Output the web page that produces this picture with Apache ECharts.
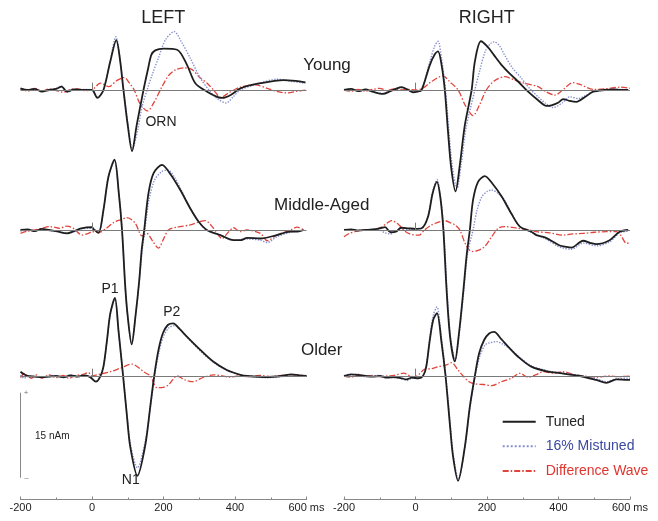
<!DOCTYPE html>
<html><head><meta charset="utf-8">
<script src="https://cdn.jsdelivr.net/npm/echarts@6/dist/echarts.min.js"></script>
<style>html,body{margin:0;padding:0;background:#fff}#c{width:658px;height:521px}</style>
</head><body><div id="c"></div>
<script>
// time axis (ms) and tick labels
const xTicks = [-200, 0, 200, 400, 600];
const tickLabels = ['-200', '0', '200', '400', '600 ms'];
const seriesNames = ['Tuned', '16% Mistuned', 'Difference Wave'];
const rowNames = ['Young', 'Middle-Aged', 'Older'];
const colNames = ['LEFT', 'RIGHT'];

// ---- LEFT / Young  [ms, nAm]
const leftYoungTuned = [[-200,0.3],[-180,0],[-160,0.2],[-140,-0.3],[-120,0],[-100,0.2],[-85,0.6],[-70,-0.3],[-50,0.1],[-25,0],[0,0],[15,-1.4],[32,0],[51,5.0],[68,8.8],[78,5.5],[88,0],[100,-6.2],[112,-10.8],[125,-6.2],[144,0],[157,3.8],[166,6.2],[177,7.0],[200,7.3],[238,7.1],[266,4.4],[289,1.2],[322,-0.3],[350,-1.2],[365,-1.4],[390,-0.8],[415,0.3],[471,1.2],[536,1.76],[570,1.6],[597,1.35]];
const leftYoungMistuned = [[-200,0.2],[-180,0],[-160,0.2],[-140,-0.2],[-120,0.1],[-100,0.3],[-85,0.7],[-70,-0.4],[-50,0],[-25,0.1],[0,0],[15,-1.2],[32,0],[51,5.2],[67,9.4],[78,5.8],[88,0.3],[100,-5.8],[113,-10.4],[128,-7.0],[140,-3.0],[154,0],[170,3.0],[185,5.5],[205,8.8],[230,10.3],[250,8.5],[275,5.6],[303,2.1],[331,-0.3],[350,-1.5],[375,-2.3],[395,-1.2],[415,0],[460,1.0],[517,1.9],[560,1.5],[597,1.2]];
const leftYoungDiff = [[-200,0.2],[-180,-0.2],[-160,0.3],[-140,-0.2],[-120,0.2],[-100,-0.1],[-80,-0.4],[-60,0.1],[-40,0.2],[-20,-0.1],[0,0],[23,1.2],[47,0.6],[70,1.7],[90,2.2],[105,1.2],[118,0],[135,-2.5],[155,-3.7],[175,-2.0],[195,0.5],[215,2.6],[235,3.6],[260,3.9],[280,3.6],[300,2.3],[322,1.2],[340,0],[360,-1.3],[385,-0.4],[415,0.5],[457,0.9],[490,0.3],[520,-0.3],[545,-0.5],[575,-0.2],[600,0]];

// ---- RIGHT / Young
const rightYoungTuned = [[-200,0],[-180,0.2],[-160,-0.2],[-140,0.1],[-120,-0.3],[-91,-0.7],[-70,-0.2],[-55,0.2],[-39,0.5],[-20,0],[-7,-0.4],[5,-0.3],[17,0],[40,4.4],[54,6.3],[63,6.8],[73,4.4],[82,0],[91,-7.4],[100,-13.8],[112,-17.9],[124,-13.2],[138,-6.2],[157,0],[166,5.0],[183,8.6],[202,7.6],[219,6.2],[241,4.4],[265,2.8],[287,1.5],[315,-0.3],[343,-1.8],[366,-2.8],[380,-2.7],[400,-2.2],[413,-1.6],[430,-1.9],[450,-2.1],[475,-1.2],[497,-0.3],[530,0],[553,0.1],[575,0],[595,0]];
const rightYoungMistuned = [[-200,0],[-180,0.1],[-160,-0.2],[-140,0.1],[-120,-0.3],[-91,-0.6],[-70,-0.2],[-39,0.4],[-20,0],[-7,-0.3],[5,-0.3],[17,0],[40,5.0],[54,7.8],[63,8.6],[73,5.5],[84,0],[93,-7.0],[103,-13.5],[116,-17.4],[128,-13.0],[142,-6.5],[166,0],[180,3.5],[195,6.8],[210,8.2],[220,8.5],[235,7.8],[249,6.2],[270,4.0],[296,2.1],[320,0.2],[343,-1.2],[365,-2.4],[385,-3.1],[410,-2.3],[432,-1.2],[455,-1.5],[475,-1.0],[497,-0.3],[530,0],[575,0.1],[595,0]];
const rightYoungDiff = [[-200,0],[-180,-0.2],[-160,0.1],[-140,-0.2],[-120,0.1],[-100,0.3],[-80,-0.1],[-60,0.2],[-40,0],[-20,0.1],[0,0],[20,0.3],[45,1.5],[77,2.5],[95,1.5],[119,0],[140,-2.8],[161,-4.5],[180,-2.5],[198,0],[220,1.6],[250,2.35],[275,1.8],[304,1.2],[343,0.6],[365,-0.3],[390,-0.9],[415,0.2],[440,1.3],[460,1.0],[497,0.1],[530,0.2],[574,0.5],[600,0.3]];

// ---- LEFT / Middle-Aged
const leftMiddleTuned = [[-200,0],[-180,0.1],[-160,-0.2],[-140,0.2],[-120,0],[-100,-0.2],[-70,-0.6],[-50,-0.2],[-30,0.3],[0,0.5],[5,0.1],[18,-0.5],[32,3.5],[46,9.4],[63,12.4],[75,6.5],[84,0],[93,-10],[100,-15.3],[111,-20.2],[122,-15],[132,-9],[139,-3.5],[146,0],[158,6.5],[172,10],[196,11.5],[220,9.8],[247,7.06],[275,3.8],[298,1.5],[321,0],[359,-0.9],[396,-1.8],[415,-1.8],[434,-1.4],[471,-1.5],[517,-0.9],[555,-0.3],[575,-0.3],[592,0]];
const leftMiddleMistuned = [[-200,-0.2],[-180,0],[-160,-0.1],[-140,0.1],[-120,-0.1],[-100,-0.3],[-70,-0.5],[-50,-0.3],[-30,0.2],[0,0.3],[18,-0.5],[32,3.5],[46,9.4],[63,12.2],[75,6.5],[84,0],[93,-10],[100,-15.3],[111,-20],[122,-15],[132,-9.2],[140,-3.8],[148,0],[160,5.5],[175,8.8],[195,10.3],[212,10.6],[230,9.4],[250,7.0],[275,3.8],[298,1.5],[321,0],[359,-0.9],[396,-1.8],[434,-1.6],[471,-1.8],[490,-2.2],[517,-1.2],[555,-0.4],[592,0]];
const leftMiddleDiff = [[-200,-0.6],[-180,-0.2],[-160,0],[-140,0.3],[-117,0.6],[-90,0.3],[-70,0.7],[-50,0.2],[-28,-0.9],[-10,-0.6],[0,-0.3],[20,-0.4],[40,0.3],[60,1.3],[80,1.8],[98,2.2],[121,1.2],[140,-1.06],[153,-0.6],[170,-2.0],[186,-3.2],[200,-1.6],[214,0],[238,0.5],[275,0.9],[303,1.5],[317,1.65],[340,0.3],[364,-1.5],[380,-0.5],[396,0.4],[415,-0.3],[433,0],[471,-0.6],[490,-1.9],[517,-0.9],[555,0],[574,0.5],[592,0]];

// ---- RIGHT / Middle-Aged
const rightMiddleTuned = [[-200,0],[-180,0.1],[-160,-0.1],[-140,0],[-120,0.1],[-100,0.3],[-85,0.5],[-70,-0.4],[-55,-0.3],[-40,0.4],[-20,0.3],[0,0.2],[17,0.3],[35,2.35],[48,6.5],[60,8.5],[70,5.5],[78,0],[87,-10.6],[97,-19],[110,-23.2],[122,-18],[134,-10.6],[143,-4.5],[152,0],[161,5.3],[175,8.5],[194,9.5],[215,8.2],[241,5.9],[268,2.9],[292,0.6],[324,-0.3],[338,-0.9],[362,-1.3],[376,-1.76],[399,-2.6],[413,-2.9],[436,-3.1],[469,-1.9],[490,-2.3],[506,-2.5],[543,-1.8],[571,-0.3],[595,0]];
const rightMiddleMistuned = [[-200,0],[-180,0],[-160,-0.1],[-140,0],[-120,0.1],[-100,0],[-85,-0.5],[-70,-0.7],[-55,-0.2],[-40,0.3],[-20,0.1],[0,0.2],[17,0.3],[35,2.5],[48,6.8],[60,8.9],[70,5.8],[79,0],[88,-10.5],[98,-19],[111,-23],[123,-18],[136,-10],[146,-4],[161,0],[172,3.5],[185,5.8],[200,6.8],[212,7.06],[230,6.5],[250,5.2],[268,3.0],[292,0.6],[324,-0.4],[362,-1.5],[376,-2.0],[399,-2.9],[413,-3.2],[436,-3.4],[469,-2.3],[506,-2.8],[543,-2.1],[571,-0.5],[595,-0.2]];
const rightMiddleDiff = [[-200,-1.2],[-185,-0.6],[-170,-0.3],[-150,0],[-120,0],[-95,0.5],[-80,1.2],[-67,1.65],[-46,0.9],[-30,-0.2],[-16,-0.7],[0,-0.9],[10,-0.9],[25,0],[45,0.9],[65,1.4],[82,1.65],[100,1.2],[110,0.9],[124,0],[140,-2.5],[157,-3.8],[175,-3.6],[194,-2.9],[213,-1.2],[231,0.3],[250,0.6],[287,0.3],[319,0],[338,-0.3],[375,-0.5],[413,-0.9],[440,-0.7],[469,-0.6],[500,-0.4],[534,-0.3],[562,-0.3],[575,-1],[590,-2.35],[600,-2.2]];

// ---- LEFT / Older
const leftOlderTuned = [[-200,0.76],[-190,0.3],[-180,0],[-160,-0.1],[-140,-0.2],[-120,-0.1],[-100,0],[-80,-0.2],[-60,0.1],[-40,-0.1],[-20,0.1],[-5,-0.2],[11,-1.0],[23,-0.1],[32,1.65],[42,6.35],[51,11],[64,13.8],[74,8.1],[87,0],[98,-7.2],[107,-12.5],[127,-17.6],[149,-12.2],[163,-5.4],[174,0],[186,4.6],[198,7.5],[212,9],[227,9.3],[245,8.3],[266,6.9],[303,4.6],[340,2.5],[377,1.06],[415,0.2],[434,0],[489,-0.2],[530,0],[558,0.3],[580,0.1],[600,0]];
const leftOlderMistuned = [[-200,0.2],[-190,-0.4],[-180,-0.1],[-160,-0.1],[-140,-0.3],[-120,0],[-100,0],[-80,-0.3],[-60,0.2],[-40,-0.1],[-20,0.1],[-5,-0.2],[11,-1.0],[23,-0.1],[32,1.6],[42,6.2],[51,10.8],[64,13.6],[74,8.0],[87,0],[98,-7.0],[108,-12.2],[127,-16.2],[149,-11.5],[164,-5.2],[175,0],[188,4.4],[200,7.0],[215,8.5],[231,8.9],[250,8.0],[270,6.6],[303,4.4],[340,2.4],[377,1.0],[415,0.2],[434,0],[489,-0.3],[530,-0.1],[558,0.2],[600,0]];
const leftOlderDiff = [[-200,-0.3],[-190,0.4],[-180,0],[-170,-0.4],[-155,0.2],[-140,-0.4],[-120,0.2],[-100,-0.3],[-80,0.1],[-65,-0.4],[-45,0.1],[-25,0.3],[-10,0.6],[0,0],[20,0.3],[51,0.76],[80,1.4],[112,2.1],[130,1.5],[144,0.76],[163,0],[182,-2.06],[200,-2.0],[215,-1.5],[238,0],[260,-0.7],[284,-1.0],[305,-0.4],[341,0.2],[365,0],[384,-0.2],[410,0],[440,-0.1],[470,0.1],[500,-0.1],[530,0.1],[560,0.2],[600,0]];

// ---- RIGHT / Older
const rightOlderTuned = [[-200,0],[-180,0.3],[-160,0.2],[-140,0],[-120,-0.1],[-100,0],[-80,-0.3],[-60,-0.2],[-40,-0.4],[-25,-0.6],[-10,-0.3],[8,-0.4],[21,0],[30,1.6],[40,6.35],[50,10],[60,11.1],[73,5.8],[84,0],[96,-8.4],[105,-14.2],[119,-18.5],[138,-12.5],[152,-5.4],[166,0],[178,4.0],[192,6.35],[206,7.5],[220,7.8],[240,6.5],[259,5.2],[287,3.4],[324,1.65],[371,0.76],[404,0.5],[460,0],[506,-0.7],[534,-1.2],[562,-0.6],[593,-0.7],[600,-0.7]];
const rightOlderMistuned = [[-200,0.1],[-180,0.2],[-160,0.3],[-140,-0.1],[-120,0],[-100,0.1],[-80,-0.2],[-60,-0.3],[-40,-0.3],[-25,-0.8],[-10,-0.4],[8,-0.4],[21,0],[30,1.8],[40,6.8],[50,10.8],[60,12.2],[72,7.0],[85,0],[97,-8.4],[106,-14],[120,-18.2],[139,-12.3],[153,-5.3],[167,0],[180,3.5],[195,5.5],[210,5.9],[226,6.06],[245,5.6],[265,4.8],[287,3.5],[324,1.8],[371,0.9],[404,0.6],[460,0.1],[506,-0.5],[534,-1.0],[562,-0.5],[593,-0.4],[600,-0.4]];
const rightOlderDiff = [[-200,0],[-180,-0.2],[-160,0.1],[-140,-0.1],[-120,0.1],[-100,-0.1],[-80,0],[-60,0.1],[-33,0.5],[-15,0],[0,-0.1],[10,0.3],[26,1.2],[45,1.3],[63,1.65],[85,1.9],[101,2.35],[119,1.06],[133,0],[150,-1.0],[166,-1.4],[190,-1.5],[213,-1.7],[241,-1.0],[268,-0.4],[292,0.47],[315,-0.2],[340,0.3],[357,0.76],[385,0.5],[413,0.76],[440,0.3],[470,0],[506,-0.2],[540,0],[570,-0.1],[600,0]];

// 15 nAm calibration bar and stimulus onset marker (data units)
const scaleBar = [[-200, -2.95], [-200, -17.95]];
const onsetMark = [[0, 0], [0, 1.3]];

// ---------------- layout / styles ----------------
const PX = 85 / 15;                // pixels per nAm (from the 15 nAm bar)
const colLeft = [20.5, 344];
const colWidth = 286;
const rowBase = [90, 230, 376];
const rowMin = [-20, -25, -21.79];
const rowMax = 15;
const panels = [
  [leftYoungTuned, leftYoungMistuned, leftYoungDiff],
  [rightYoungTuned, rightYoungMistuned, rightYoungDiff],
  [leftMiddleTuned, leftMiddleMistuned, leftMiddleDiff],
  [rightMiddleTuned, rightMiddleMistuned, rightMiddleDiff],
  [leftOlderTuned, leftOlderMistuned, leftOlderDiff],
  [rightOlderTuned, rightOlderMistuned, rightOlderDiff]
];
const FONT = '"Liberation Sans", Arial, sans-serif';
const cTuned = '#1e1e1e', cMis = '#8790cf', cDiff = '#e0453d';

const grids = [], xAxes = [], yAxes = [], series = [];
panels.forEach((p, i) => {
  const r = Math.floor(i / 2), c = i % 2;
  grids.push({ left: colLeft[c], width: colWidth, top: rowBase[r] - rowMax * PX, height: (rowMax - rowMin[r]) * PX });
  const bottom = r === 2;
  xAxes.push({
    gridIndex: i, type: 'value', min: xTicks[0], max: xTicks[xTicks.length - 1], interval: 200,
    show: bottom, position: 'bottom',
    axisLine: { show: bottom, onZero: false, lineStyle: { color: '#888', width: 1 } },
    axisTick: { show: bottom, inside: true, length: 3, lineStyle: { color: '#888' } },
    minorTick: { show: bottom, splitNumber: 2, length: 2, lineStyle: { color: '#888' } },
    splitLine: { show: false },
    axisLabel: { show: bottom, margin: 3, fontSize: 11, color: '#222', fontFamily: FONT,
      formatter: v => tickLabels[xTicks.indexOf(v)] }
  });
  yAxes.push({ gridIndex: i, type: 'value', min: rowMin[r], max: rowMax, show: false });
  const common = { type: 'line', xAxisIndex: i, yAxisIndex: i, showSymbol: false, symbol: 'none',
    smooth: 0.3, clip: false, silent: true, animation: false };
  series.push(Object.assign({}, common, {
    name: seriesNames[2], data: p[2], z: 2,
    lineStyle: { color: cDiff, width: 1.3, type: [6, 2, 1.5, 2] },
    itemStyle: { color: cDiff },
    markLine: { silent: true, symbol: 'none', animation: false, label: { show: false },
      lineStyle: { color: '#7a7a7a', width: 1, type: 'solid' },
      emphasis: { disabled: true },
      data: [{ yAxis: 0 }, [{ coord: onsetMark[0] }, { coord: onsetMark[1] }]] }
  }));
  series.push(Object.assign({}, common, {
    name: seriesNames[1], data: p[1], z: 3,
    lineStyle: { color: cMis, width: 1.4, type: 'dotted' }, itemStyle: { color: cMis }
  }));
  series.push(Object.assign({}, common, {
    name: seriesNames[0], data: p[0], z: 4,
    lineStyle: { color: cTuned, width: 1.8 }, itemStyle: { color: cTuned }
  }));
});
series.push({ type: 'line', xAxisIndex: 4, yAxisIndex: 4, data: scaleBar, symbol: 'none', silent: true,
  animation: false, clip: false, lineStyle: { color: '#888', width: 1 } });

const txt = (x, y, s, size, color, align) => ({ type: 'text', x, y, silent: true,
  style: { text: s, fontSize: size, fontFamily: FONT, fill: color || '#222', align: align || 'center', verticalAlign: 'middle' } });

const graphic = [
  txt(163.3, 18.5, colNames[0], 18), txt(486.7, 18.5, colNames[1], 18),
  txt(327, 65, rowNames[0], 17), txt(321.7, 205, rowNames[1], 17), txt(321.7, 350, rowNames[2], 17),
  txt(161, 122, 'ORN', 14), txt(110, 289.5, 'P1', 14), txt(171.7, 312, 'P2', 14), txt(130.8, 480, 'N1', 14),
  txt(35, 436, '15 nAm', 10, '#222', 'left'),
  txt(26, 392.5, '+', 8, '#777'), txt(26.5, 478, '\u2013', 8, '#777')
];

const chart = echarts.init(document.getElementById('c'), null, { renderer: 'canvas' });
chart.setOption({
  animation: false,
  backgroundColor: '#fff',
  grid: grids, xAxis: xAxes, yAxis: yAxes, series,
  legend: {
    orient: 'vertical', left: 496.7, top: 409.7, itemWidth: 33, itemHeight: 14, itemGap: 10.6,
    selectedMode: false,
    itemStyle: { opacity: 0 },
    textStyle: { fontSize: 14, fontFamily: FONT, padding: [0, 0, 0, 5] },
    data: [
      { name: seriesNames[0], textStyle: { color: '#222' } },
      { name: seriesNames[1], textStyle: { color: '#3b47a0' } },
      { name: seriesNames[2], textStyle: { color: '#e0352f' } }
    ]
  },
  graphic
});
</script></body></html>
